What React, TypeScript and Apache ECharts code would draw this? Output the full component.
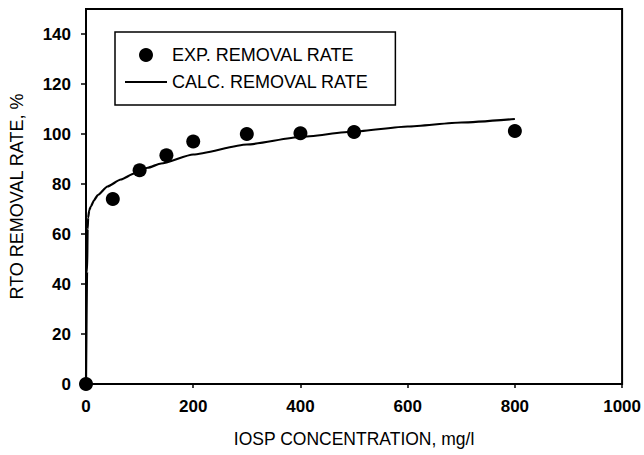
import React, { useEffect, useRef } from "react";
import * as echarts from "echarts";

const expX = [0, 50, 100, 150, 200, 300, 400, 500, 800];
const expY = [0, 74, 85.5, 91.5, 97, 100, 100.3, 100.8, 101.2];

const calcX = [0, 2, 3, 4, 6, 9, 15, 22, 40, 65, 90, 115, 140, 200, 300, 400, 500, 600, 700, 800];
const calcY = [0, 45, 62, 66.5, 69.5, 71, 73.5, 75.6, 79, 81.8, 84.2, 86.5, 88.2, 91.8, 95.8, 98.8, 101, 103, 104.6, 106];

const xTicks = [0, 200, 400, 600, 800, 1000];
const yTicks = [0, 20, 40, 60, 80, 100, 120, 140];

const FONT = "'Liberation Sans', Arial, sans-serif";

export default function App() {
  const ref = useRef<HTMLDivElement>(null);
  useEffect(() => {
    if (!ref.current) return;
    const chart = echarts.init(ref.current, null, { renderer: "svg" });
    chart.setOption({
      animation: false,
      backgroundColor: "#ffffff",
      textStyle: { fontFamily: FONT },
      grid: {
        left: 85,
        right: 20,
        top: 9,
        bottom: 71,
        show: true,
        borderColor: "#000",
        borderWidth: 2,
      },
      legend: {
        left: 115,
        top: 32,
        orient: "vertical",
        backgroundColor: "#fff",
        borderColor: "#000",
        borderWidth: 1.5,
        borderRadius: 0,
        padding: [14, 27, 14, 10],
        itemWidth: 42,
        itemHeight: 14,
        itemGap: 9,
        textStyle: { fontFamily: FONT, fontSize: 18, color: "#000" },
        data: [
          { name: "EXP. REMOVAL RATE", icon: "circle", itemStyle: { color: "#000", opacity: 1 } },
          {
            name: "CALC. REMOVAL RATE",
            icon: "path://M0,0 L42,0 L42,2 L0,2 Z",
            itemStyle: { color: "#000", opacity: 1 },
            lineStyle: { width: 0 },
          },
        ],
      },
      xAxis: {
        type: "value",
        min: xTicks[0],
        max: xTicks[xTicks.length - 1],
        interval: 200,
        name: "IOSP CONCENTRATION, mg/l",
        nameLocation: "middle",
        nameGap: 46,
        nameTextStyle: { fontFamily: FONT, fontSize: 17.5, color: "#000" },
        axisLine: { show: true, lineStyle: { color: "#000", width: 2 } },
        axisTick: { show: true, inside: false, length: 4, lineStyle: { color: "#000", width: 1.5 } },
        axisLabel: {
          margin: 14,
          fontFamily: FONT,
          fontSize: 17,
          fontWeight: "bold",
          color: "#000",
          formatter: (v: number) => String(v),
        },
        splitLine: { show: false },
      },
      yAxis: {
        type: "value",
        min: yTicks[0],
        max: 150,
        interval: 20,
        name: "RTO REMOVAL RATE, %",
        nameLocation: "middle",
        nameGap: 60,
        nameTextStyle: { fontFamily: FONT, fontSize: 18, color: "#000" },
        axisLine: { show: true, lineStyle: { color: "#000", width: 2 } },
        axisTick: { show: true, inside: false, length: 5, lineStyle: { color: "#000", width: 1.5 } },
        axisLabel: {
          margin: 15,
          showMaxLabel: false,
          fontFamily: FONT,
          fontSize: 17,
          fontWeight: "bold",
          color: "#000",
          formatter: (v: number) => String(v),
        },
        splitLine: { show: false },
      },
      series: [
        {
          name: "CALC. REMOVAL RATE",
          type: "line",
          data: calcX.map((x, i) => [x, calcY[i]]),
          symbol: "none",
          smooth: 0.2,
          smoothMonotone: "x",
          lineStyle: { color: "#000", width: 2.2 },
          itemStyle: { color: "#000" },
          z: 3,
        },
        {
          name: "EXP. REMOVAL RATE",
          type: "scatter",
          data: expX.map((x, i) => [x, expY[i]]),
          symbol: "circle",
          symbolSize: 14,
          clip: false,
          itemStyle: { color: "#000", opacity: 1 },
          z: 4,
        },
      ],
    });
    return () => chart.dispose();
  }, []);
  return (
    <div
      ref={ref}
      style={{ position: "fixed", left: 0, top: 0, width: 644, height: 455, background: "#fff" }}
    />
  );
}
